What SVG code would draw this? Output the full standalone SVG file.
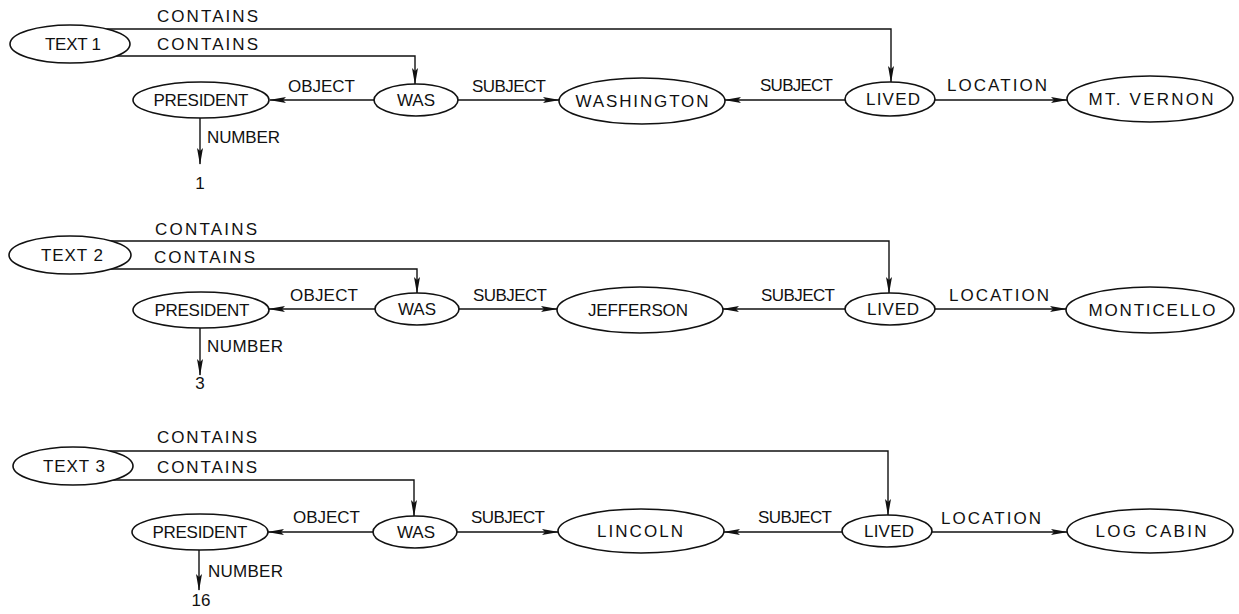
<svg xmlns="http://www.w3.org/2000/svg" width="1239" height="614" viewBox="0 0 1239 614">
<style>
.bg{fill:#fff}
.n ellipse{fill:#fff;stroke:#111;stroke-width:1.6}
.n text{font-family:"Liberation Sans",Arial,sans-serif;font-size:17px;fill:#111;text-anchor:middle}
.c path{fill:none;stroke:#111;stroke-width:1.4}
.c .a{marker-end:url(#arr)}
.lbl{font-family:"Liberation Sans",Arial,sans-serif;font-size:17px;fill:#111}
</style>
<defs>
<marker id="arr" markerUnits="userSpaceOnUse" markerWidth="17" markerHeight="8" refX="16" refY="4" orient="auto">
<path d="M0,1 L17,4 L0,7 L3,4 z" fill="#111"/>
</marker>
</defs>
<rect class="bg" x="0" y="0" width="1239" height="614"/>

<g id="connectors" class="c">
<!-- block 1 -->
<path class="a" d="M105,29 H891 V82"/>
<path class="a" d="M105,56 H415 V84"/>
<path class="a" d="M374,100 H270"/>
<path class="a" d="M458,100 H559"/>
<path class="a" d="M845,100 H725"/>
<path class="a" d="M935,100 H1067"/>
<path class="a" d="M200,118 V164"/>
<!-- block 2 -->
<path class="a" d="M105,241 H889 V293"/>
<path class="a" d="M105,269 H417 V293"/>
<path class="a" d="M375,309 H269"/>
<path class="a" d="M459,309 H557"/>
<path class="a" d="M845,309 H723"/>
<path class="a" d="M935,309 H1066"/>
<path class="a" d="M200,328 V375"/>
<!-- block 3 -->
<path class="a" d="M108,451 H888 V515"/>
<path class="a" d="M108,480 H414 V516"/>
<path class="a" d="M373,532 H268"/>
<path class="a" d="M457,532 H558"/>
<path class="a" d="M842,532 H724"/>
<path class="a" d="M932,532 H1067"/>
<path class="a" d="M199,550 V590"/>
</g>

<g id="labels" class="lbl">
<text x="157" y="22" textLength="101" lengthAdjust="spacing">CONTAINS</text>
<text x="157" y="50" textLength="101" lengthAdjust="spacing">CONTAINS</text>
<text x="288" y="92" textLength="67" lengthAdjust="spacing">OBJECT</text>
<text x="472" y="92" textLength="74" lengthAdjust="spacing">SUBJECT</text>
<text x="760" y="91" textLength="73" lengthAdjust="spacing">SUBJECT</text>
<text x="947" y="91" textLength="100" lengthAdjust="spacing">LOCATION</text>
<text x="207" y="143" textLength="73" lengthAdjust="spacing">NUMBER</text>
<text x="200" y="189" text-anchor="middle">1</text>

<text x="155" y="235" textLength="102" lengthAdjust="spacing">CONTAINS</text>
<text x="154" y="263" textLength="101" lengthAdjust="spacing">CONTAINS</text>
<text x="290" y="301" textLength="68" lengthAdjust="spacing">OBJECT</text>
<text x="473" y="301" textLength="74" lengthAdjust="spacing">SUBJECT</text>
<text x="761" y="301" textLength="74" lengthAdjust="spacing">SUBJECT</text>
<text x="949" y="301" textLength="100" lengthAdjust="spacing">LOCATION</text>
<text x="207" y="352" textLength="76" lengthAdjust="spacing">NUMBER</text>
<text x="200" y="389" text-anchor="middle">3</text>

<text x="157" y="443" textLength="100" lengthAdjust="spacing">CONTAINS</text>
<text x="157" y="473" textLength="100" lengthAdjust="spacing">CONTAINS</text>
<text x="293" y="523" textLength="67" lengthAdjust="spacing">OBJECT</text>
<text x="471" y="523" textLength="74" lengthAdjust="spacing">SUBJECT</text>
<text x="758" y="523" textLength="74" lengthAdjust="spacing">SUBJECT</text>
<text x="941" y="524" textLength="100" lengthAdjust="spacing">LOCATION</text>
<text x="208" y="577" textLength="75" lengthAdjust="spacing">NUMBER</text>
<text x="201" y="606" text-anchor="middle">16</text>
</g>

<!-- block 1 nodes -->
<g id="text1" class="n"><ellipse cx="70" cy="44" rx="60" ry="19"/><text x="73" y="50" textLength="56" lengthAdjust="spacing">TEXT 1</text></g>
<g id="president1" class="n"><ellipse cx="201" cy="100" rx="68" ry="18"/><text x="201" y="106" textLength="95" lengthAdjust="spacing">PRESIDENT</text></g>
<g id="was1" class="n"><ellipse cx="416" cy="100" rx="42" ry="16"/><text x="416" y="106" textLength="38" lengthAdjust="spacing">WAS</text></g>
<g id="washington" class="n"><ellipse cx="642" cy="101" rx="83" ry="23"/><text x="642" y="107" textLength="133" lengthAdjust="spacing">WASHINGTON</text></g>
<g id="lived1" class="n"><ellipse cx="890" cy="99" rx="45" ry="17"/><text x="893" y="105" textLength="54" lengthAdjust="spacing">LIVED</text></g>
<g id="mtvernon" class="n"><ellipse cx="1150" cy="99" rx="83" ry="23"/><text x="1151" y="105" textLength="125" lengthAdjust="spacing">MT. VERNON</text></g>

<!-- block 2 nodes -->
<g id="text2" class="n"><ellipse cx="70" cy="255" rx="61" ry="19"/><text x="72" y="261" textLength="62" lengthAdjust="spacing">TEXT 2</text></g>
<g id="president2" class="n"><ellipse cx="201" cy="310" rx="68" ry="18"/><text x="202" y="316" textLength="95" lengthAdjust="spacing">PRESIDENT</text></g>
<g id="was2" class="n"><ellipse cx="417" cy="309" rx="42" ry="16"/><text x="417" y="315" textLength="38" lengthAdjust="spacing">WAS</text></g>
<g id="jefferson" class="n"><ellipse cx="640" cy="310" rx="83" ry="23"/><text x="638" y="316" textLength="100" lengthAdjust="spacing">JEFFERSON</text></g>
<g id="lived2" class="n"><ellipse cx="890" cy="309" rx="45" ry="16"/><text x="893" y="315" textLength="52" lengthAdjust="spacing">LIVED</text></g>
<g id="monticello" class="n"><ellipse cx="1150" cy="310" rx="84" ry="23"/><text x="1152" y="316" textLength="127" lengthAdjust="spacing">MONTICELLO</text></g>

<!-- block 3 nodes -->
<g id="text3" class="n"><ellipse cx="73" cy="466" rx="60" ry="19"/><text x="74" y="472" textLength="62" lengthAdjust="spacing">TEXT 3</text></g>
<g id="president3" class="n"><ellipse cx="200" cy="532" rx="68" ry="18"/><text x="200" y="538" textLength="95" lengthAdjust="spacing">PRESIDENT</text></g>
<g id="was3" class="n"><ellipse cx="415" cy="532" rx="42" ry="16"/><text x="416" y="538" textLength="38" lengthAdjust="spacing">WAS</text></g>
<g id="lincoln" class="n"><ellipse cx="641" cy="531" rx="83" ry="22"/><text x="640" y="537" textLength="86" lengthAdjust="spacing">LINCOLN</text></g>
<g id="lived3" class="n"><ellipse cx="887" cy="531" rx="45" ry="16"/><text x="889" y="537" textLength="50" lengthAdjust="spacing">LIVED</text></g>
<g id="logcabin" class="n"><ellipse cx="1150" cy="531" rx="83" ry="22"/><text x="1151" y="537" textLength="111" lengthAdjust="spacing">LOG CABIN</text></g>
</svg>
